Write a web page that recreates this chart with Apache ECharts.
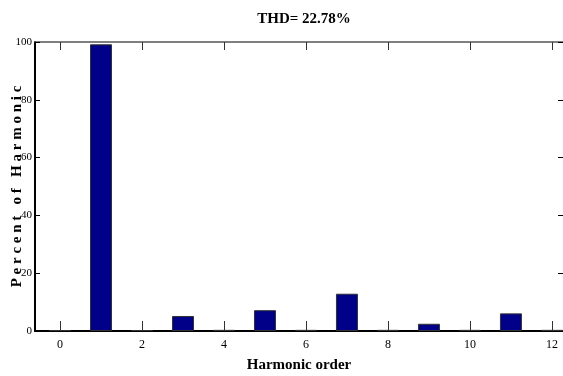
<!DOCTYPE html>
<html>
<head>
<meta charset="utf-8">
<script src="https://cdn.jsdelivr.net/npm/echarts@6/dist/echarts.min.js"></script>
<style>html,body{margin:0;padding:0;background:#fff;}#c{width:563px;height:376px;}</style>
</head>
<body>
<div id="c"></div>
<script>
const harmonicOrder = [0, 1, 2, 3, 4, 5, 6, 7, 8, 9, 10, 11, 12];
const percentValues = [0.3, 99.2, 0.3, 5.2, 0.4, 7.2, 0.4, 12.9, 0.4, 2.5, 0.4, 6.1, 0.4];
const xTickValues = [0, 2, 4, 6, 8, 10, 12];
const chartTitle = 'THD= 22.78%';
const xTitle = 'Harmonic order';
const yTitle = 'P e r c e n t   o f   H a r m o n i c';

const font = 'Liberation Serif';
const chart = echarts.init(document.getElementById('c'), null, {renderer: 'canvas'});
chart.setOption({
  animation: false,
  backgroundColor: '#fff',
  title: {
    text: chartTitle, left: 299, top: 7, textAlign: 'center',
    textStyle: {fontFamily: font, fontSize: 15, fontWeight: 'bold', color: '#000'}
  },
  grid: {left: 35, right: 0, top: 42, bottom: 45, containLabel: false, outerBoundsMode: 'none'},
  xAxis: [{
    type: 'value', min: -0.61, max: 12.27, position: 'bottom',
    name: xTitle, nameLocation: 'middle', nameGap: 27, nameMoveOverlap: false,
    nameTextStyle: {fontFamily: font, fontSize: 15, fontWeight: 'bold', color: '#000'},
    axisLine: {show: true, onZero: false, lineStyle: {color: '#000', width: 2}},
    axisTick: {show: true, inside: true, length: 10, customValues: xTickValues, lineStyle: {color: '#333'}},
    axisLabel: {customValues: xTickValues, fontFamily: font, fontSize: 12, color: '#000', margin: 8},
    splitLine: {show: false}
  }, {
    type: 'value', min: -0.61, max: 12.27, position: 'top',
    axisLine: {show: true, onZero: false, lineStyle: {color: '#555', width: 1.5}},
    axisTick: {show: true, inside: true, length: 8, customValues: xTickValues, lineStyle: {color: '#333'}},
    axisLabel: {show: false},
    splitLine: {show: false}
  }],
  yAxis: [{
    type: 'value', min: 0, max: 100, interval: 20, position: 'left',
    name: yTitle, nameLocation: 'middle', nameGap: 10, nameRotate: 90, nameMoveOverlap: false,
    nameTextStyle: {fontFamily: font, fontSize: 15, fontWeight: 'bold', color: '#000'},
    axisLine: {show: true, onZero: false, lineStyle: {color: '#000', width: 2}},
    axisTick: {show: true, inside: true, length: 5, lineStyle: {color: '#000'}},
    axisLabel: {fontFamily: font, fontSize: 11, color: '#000', margin: 3},
    splitLine: {show: false}
  }, {
    type: 'value', min: 0, max: 100, interval: 20, position: 'right',
    axisLine: {show: false, onZero: false},
    axisTick: {show: true, inside: true, length: 5, lineStyle: {color: '#000'}},
    axisLabel: {show: false},
    splitLine: {show: false}
  }],
  series: [{
    type: 'bar',
    xAxisIndex: 0, yAxisIndex: 0,
    data: harmonicOrder.map((h, i) => [h, percentValues[i]]),
    barWidth: 22,
    itemStyle: {color: '#000088', borderColor: '#333', borderWidth: 1}
  }]
});
</script>
</body>
</html>
